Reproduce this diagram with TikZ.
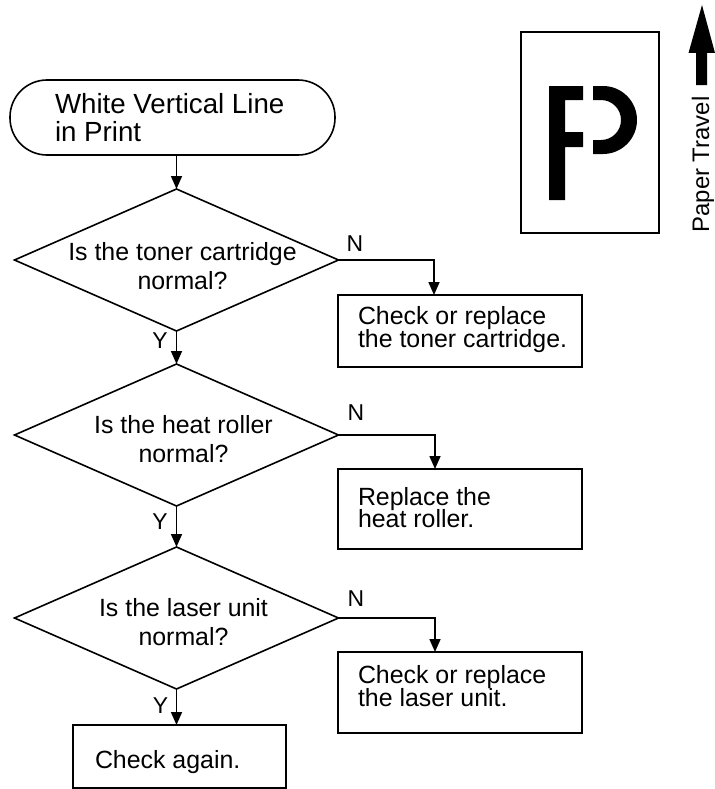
\documentclass[tikz,border=0pt]{standalone}
\usepackage{fontspec}
\setmainfont{Liberation Sans}
\usetikzlibrary{shapes.geometric,arrows.meta}
\begin{document}
\begin{tikzpicture}[x=1bp,y=1bp,
  every node/.style={inner sep=0pt, outer sep=0pt},
  lw/.style={line width=1.6bp},
  term/.style={draw, lw, rectangle, rounded corners=37bp, minimum width=325bp, minimum height=75bp},
  dia/.style={draw, lw, diamond, minimum width=324bp, minimum height=142bp},
  pbox/.style={draw, lw, rectangle, minimum width=244bp},
  ebox/.style={draw, lw, rectangle, minimum width=213bp, minimum height=63bp},
  ttext/.style={align=left, font={\fontsize{27.8}{28.4}\selectfont}},
  qtext/.style={align=center, font={\fontsize{25}{28.5}\selectfont}},
  btext/.style={align=left, font={\fontsize{25}{23}\selectfont\lineskiplimit=-30pt}},
  lab/.style={font={\fontsize{23}{25}\selectfont}},
  arr/.style={lw, -{Triangle[length=13bp,width=11bp]}}
]
\useasboundingbox (0,0) rectangle (715,-789);

% start terminal
\node[term] (T) at (172.5,-117.5) {};
\node[ttext, anchor=north west] (Tt) at (55,-93) {White Vertical Line\\in Print};

% decisions
\node[dia] (D1) at (176.5,-260) {};
\node[qtext] (D1t) at (182.5,-266) {Is the toner cartridge\\normal?};
\node[dia] (D2) at (176.5,-435) {};
\node[qtext] (D2t) at (183.5,-439) {Is the heat roller\\normal?};
\node[dia] (D3) at (176.5,-618) {};
\node[qtext] (D3t) at (183.5,-622) {Is the laser unit\\normal?};

% action boxes
\node[pbox, minimum height=72bp] (B1) at (460,-331) {};
\node[btext, anchor=north west] (B1t) at (358,-306.5) {Check or replace\\the toner cartridge.};
\node[pbox, minimum height=80bp] (B2) at (460,-509) {};
\node[btext, anchor=north west] (B2t) at (358,-487) {Replace the\\heat roller.};
\node[pbox, minimum height=81bp] (B3) at (460,-692.5) {};
\node[btext, anchor=north west] (B3t) at (358,-665.5) {Check or replace\\the laser unit.};
\node[ebox] (B4) at (179.3,-756.5) {};
\node[btext, anchor=north west] (B4t) at (95,-750.5) {Check again.};

% connectors
\draw[arr] (T.south -| D1.north) -- (D1.north);
\draw[arr] (D1.south) -- (D2.north);
\draw[arr] (D2.south) -- (D3.north);
\draw[arr] (D3.south) -- (D3.south |- B4.north);
\coordinate (c1) at ([xshift=-26bp]B1.north);
\coordinate (c2) at ([xshift=-25bp]B2.north);
\coordinate (c3) at ([xshift=-25bp]B3.north);
\draw[arr] (D1.east) -| (c1);
\draw[arr] (D2.east) -| (c2);
\draw[arr] (D3.east) -| (c3);

% labels
\node[lab] (Y1) at (160,-341) {Y};
\node[lab] (Y2) at (160,-522) {Y};
\node[lab] (Y3) at (160.5,-706) {Y};
\node[lab] (N1) at (355,-244) {N};
\node[lab] (N2) at (356,-413) {N};
\node[lab] (N3) at (356,-598.5) {N};

% paper icon
\node[draw, lw, rectangle, minimum width=138bp, minimum height=201bp] (paper) at (590,-132.5) {};
\fill (549,-86) -- (583,-86) -- (583,-100) -- (565,-100) -- (565,-132) -- (583,-132)
  -- (583,-147) -- (565,-147) -- (565,-200) -- (549,-200) -- cycle;
\fill (593,-86) -- (603,-86) arc[start angle=90, end angle=-90, radius=34]
  -- (593,-154) -- (593,-140) -- (601,-140) arc[start angle=-90, end angle=90, radius=20]
  -- (593,-100) -- cycle;

% paper travel arrow
\fill (696,-85) -- (696,-53) -- (688.5,-53) -- (702,-5) -- (715,-53) -- (707,-53) -- (707,-85) -- cycle;
\node[rotate=90, anchor=base, font={\fontsize{24}{26}\selectfont}] (pt) at (709,-164.5) {Paper Travel};
\end{tikzpicture}
\end{document}
